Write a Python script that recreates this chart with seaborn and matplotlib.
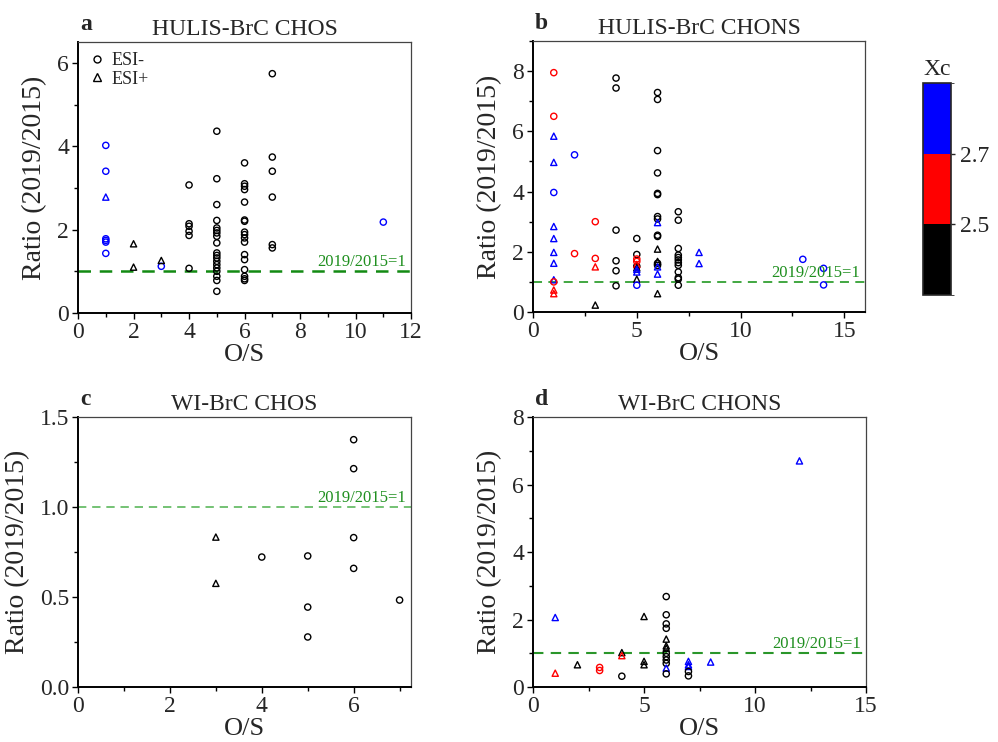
import matplotlib
matplotlib.use("Agg")
import matplotlib.pyplot as plt
from matplotlib.lines import Line2D
from matplotlib.ticker import MultipleLocator
from matplotlib.colors import ListedColormap, BoundaryNorm
import matplotlib.colorbar as mcolorbar
import numpy as np
import pandas as pd
import seaborn as sns

sns.set_style("ticks")
plt.rcParams["font.family"] = ["Liberation Serif", "DejaVu Serif"]
plt.rcParams["mathtext.fontset"] = "stix"

# Xc classes: L = below 2.5, M = 2.5-2.7, H = above 2.7
XC_COLORS = {"L": "black", "M": "#ff0000", "H": "#0000ff"}
ION_MARKERS = {"ESI-": "o", "ESI+": "^"}

# ---- a: HULIS-BrC CHOS ----
os_a = [1, 1, 1, 1, 1, 1, 3, 11,
        4, 4, 4, 4, 4, 4,
        5, 5, 5, 5, 5, 5, 5, 5, 5, 5, 5, 5, 5, 5, 5, 5, 5, 5, 5,
        6, 6, 6, 6, 6, 6, 6, 6, 6, 6, 6, 6, 6, 6, 6, 6, 6,
        7, 7, 7, 7, 7, 7,
        1, 2, 2, 3]
ratio_a = [4.02, 3.40, 1.78, 1.74, 1.70, 1.43, 1.12, 2.18,
           3.07, 2.14, 2.08, 1.96, 1.86, 1.07,
           4.36, 3.22, 2.60, 2.22, 2.04, 1.98, 1.92, 1.84, 1.68, 1.44, 1.38,
           1.32, 1.24, 1.16, 1.08, 1.00, 0.88, 0.78, 0.52,
           3.60, 3.10, 3.04, 2.96, 2.66, 2.23, 2.20, 1.94, 1.88, 1.80, 1.70,
           1.40, 1.28, 1.04, 0.88, 0.82, 0.78,
           5.74, 3.74, 3.40, 2.78, 1.64, 1.56,
           2.78, 1.66, 1.10, 1.26]
ion_a = ["ESI-"] * 56 + ["ESI+"] * 4
xc_a = (["H"] * 8 + ["L"] * 48 + ["H", "L", "L", "L"])

# ---- b: HULIS-BrC CHONS ----
os_b = [1, 1, 1, 1, 1, 1, 1, 1, 1, 1, 1, 1, 1,
        2, 2,
        3, 3, 3, 3,
        4, 4, 4, 4, 4, 4,
        5, 5, 5, 5, 5, 5, 5, 5, 5, 5, 5,
        6, 6, 6, 6, 6, 6, 6, 6, 6, 6, 6, 6, 6, 6, 6, 6, 6, 6,
        7, 7, 7, 7, 7, 7, 7, 7, 7, 7, 7, 7,
        8, 8, 13, 14, 14]
ratio_b = [7.95, 6.50, 5.84, 4.97, 3.97, 2.84, 2.44, 1.98, 1.62, 1.07, 1.00, 0.73, 0.61,
           5.22, 1.94,
           3.00, 1.78, 1.50, 0.23,
           7.77, 7.44, 2.72, 1.70, 1.37, 0.87,
           2.44, 1.91, 1.52, 1.76, 1.68, 1.58, 1.47, 1.42, 1.33, 1.09, 0.89,
           7.29, 7.06, 5.36, 4.62, 3.94, 3.90, 3.17, 3.09, 2.97, 2.55, 2.51,
           2.09, 1.68, 1.62, 1.55, 1.50, 1.26, 0.61,
           3.33, 3.05, 2.11, 1.89, 1.81, 1.73, 1.64, 1.55, 1.33, 1.14, 1.09, 0.89,
           1.98, 1.61, 1.75, 1.45, 0.90]
ion_b = ["ESI-", "ESI-", "ESI+", "ESI+", "ESI-", "ESI+", "ESI+", "ESI+", "ESI+", "ESI+", "ESI-", "ESI+", "ESI+",
         "ESI-", "ESI-",
         "ESI-", "ESI-", "ESI+", "ESI+",
         "ESI-", "ESI-", "ESI-", "ESI-", "ESI-", "ESI-",
         "ESI-", "ESI-", "ESI-", "ESI-", "ESI-", "ESI+", "ESI+", "ESI+", "ESI+", "ESI+", "ESI-",
         "ESI-", "ESI-", "ESI-", "ESI-", "ESI-", "ESI-", "ESI-", "ESI-", "ESI+", "ESI-", "ESI-",
         "ESI+", "ESI+", "ESI-", "ESI-", "ESI+", "ESI+", "ESI+",
         "ESI-", "ESI-", "ESI-", "ESI-", "ESI-", "ESI-", "ESI-", "ESI-", "ESI-", "ESI-", "ESI-", "ESI-",
         "ESI+", "ESI+", "ESI-", "ESI-", "ESI-"]
xc_b = ["M", "M", "H", "H", "H", "H", "H", "H", "H", "H", "M", "M", "M",
        "H", "M",
        "M", "M", "M", "L",
        "L", "L", "L", "L", "L", "L",
        "L", "L", "L", "M", "M", "M", "L", "H", "H", "L", "H",
        "L", "L", "L", "L", "L", "L", "L", "L", "H", "L", "L",
        "L", "L", "L", "L", "H", "H", "L",
        "L", "L", "L", "L", "L", "L", "L", "L", "L", "L", "L", "L",
        "H", "H", "H", "H", "H"]

# ---- c: WI-BrC CHOS ----
os_c = [3, 3, 4, 5, 5, 5, 6, 6, 6, 6, 7]
ratio_c = [0.833, 0.576, 0.722, 0.728, 0.444, 0.278, 1.374, 1.213, 0.830, 0.659, 0.483]
ion_c = ["ESI+", "ESI+"] + ["ESI-"] * 9
xc_c = ["L"] * 11

# ---- d: WI-BrC CHONS ----
os_d = [1, 1, 2, 3, 3, 4, 4, 4, 5, 5, 5,
        6, 6, 6, 6, 6, 6, 6, 6, 6, 6, 6, 6, 6,
        7, 7, 7, 7, 7, 8, 12]
ratio_d = [2.06, 0.41, 0.66, 0.58, 0.49, 1.02, 0.93, 0.32, 2.09, 0.76, 0.66,
           2.68, 2.14, 1.87, 1.74, 1.42, 1.22, 1.15, 1.00, 0.90, 0.80, 0.70, 0.56, 0.39,
           0.76, 0.66, 0.61, 0.46, 0.33, 0.74, 6.70]
ion_d = ["ESI+", "ESI+", "ESI+", "ESI-", "ESI-", "ESI+", "ESI+", "ESI-", "ESI+", "ESI+", "ESI+",
         "ESI-", "ESI-", "ESI-", "ESI-", "ESI+", "ESI+", "ESI+", "ESI-", "ESI-", "ESI-", "ESI-", "ESI+", "ESI-",
         "ESI+", "ESI+", "ESI+", "ESI-", "ESI-", "ESI+", "ESI+"]
xc_d = ["H", "M", "L", "M", "M", "L", "M", "L", "L", "L", "L",
        "L", "L", "L", "L", "L", "L", "L", "L", "L", "L", "L", "H", "L",
        "H", "H", "H", "L", "L", "H", "H"]

panels = [
    dict(letter="a", title="HULIS-BrC CHOS", os=os_a, ratio=ratio_a, ion=ion_a, xc=xc_a,
         xlim=(0, 12), ylim=(0, 6.5), xmaj=2, xmin=1, ymaj=2, ymin=1,
         pos=[0.0782, 0.5782, 0.3337, 0.3652], line=("#138a13", 1.8)),
    dict(letter="b", title="HULIS-BrC CHONS", os=os_b, ratio=ratio_b, ion=ion_b, xc=xc_b,
         xlim=(0, 16), ylim=(0, 9), xmaj=5, xmin=2.5, ymaj=2, ymin=1,
         pos=[0.5341, 0.5795, 0.3327, 0.3652], line=("#33a033", 1.3)),
    dict(letter="c", title="WI-BrC CHOS", os=os_c, ratio=ratio_c, ion=ion_c, xc=xc_c,
         xlim=(0, 7.25), ylim=(0, 1.5), xmaj=2, xmin=1, ymaj=0.5, ymin=0.25,
         pos=[0.0782, 0.0741, 0.3337, 0.3639], line=("#5cb85c", 1.2)),
    dict(letter="d", title="WI-BrC CHONS", os=os_d, ratio=ratio_d, ion=ion_d, xc=xc_d,
         xlim=(0, 15), ylim=(0, 8), xmaj=5, xmin=2.5, ymaj=2, ymin=1,
         pos=[0.5341, 0.0741, 0.3337, 0.3639], line=("#2a962a", 1.5)),
]

fig = plt.figure(figsize=(9.98, 7.42), dpi=100)

for p in panels:
    ax = fig.add_axes(p["pos"])
    df = pd.DataFrame({"O/S": p["os"], "Ratio": p["ratio"], "Ion": p["ion"], "Xc": p["xc"]})
    sns.scatterplot(data=df, x="O/S", y="Ratio", hue="Xc", style="Ion",
                    palette=XC_COLORS, markers=ION_MARKERS, s=20, linewidth=1.0,
                    legend=False, ax=ax, zorder=3)
    # hollow markers: move fill colour to the edge
    for coll in ax.collections:
        fc = coll.get_facecolors()
        coll.set_edgecolors(fc)
        coll.set_facecolors("none")

    color, lw = p["line"]
    ax.axhline(1.0, color=color, lw=lw, ls=(0, (5, 3.5)), zorder=2)
    ax.annotate("2019/2015=1", xy=(0.985, 1.0), xycoords=("axes fraction", "data"),
                xytext=(0, 1), textcoords="offset points", ha="right", va="bottom",
                color="#1f8f1f", fontsize=12)

    ax.set_xlim(*p["xlim"])
    ax.set_ylim(*p["ylim"])
    ax.xaxis.set_major_locator(MultipleLocator(p["xmaj"]))
    ax.xaxis.set_minor_locator(MultipleLocator(p["xmin"]))
    ax.yaxis.set_major_locator(MultipleLocator(p["ymaj"]))
    ax.yaxis.set_minor_locator(MultipleLocator(p["ymin"]))
    ax.tick_params(which="both", direction="out", top=False, right=False,
                   labelsize=17, width=1.0, pad=2, color="black")
    ax.tick_params(which="major", length=4.5)
    ax.tick_params(which="minor", length=3)

    for side in ("left", "bottom"):
        ax.spines[side].set_color("black")
        ax.spines[side].set_linewidth(1.4)
    for side in ("top", "right"):
        ax.spines[side].set_visible(True)
        ax.spines[side].set_color("#444444")
        ax.spines[side].set_linewidth(0.9)

    ax.set_xlabel("O/S", fontsize=19, labelpad=1)
    ax.set_ylabel("Ratio (2019/2015)", fontsize=20, labelpad=7)
    ax.set_title(p["title"], fontsize=17, pad=5)
    ax.text(0.006, 1.045, p["letter"], transform=ax.transAxes, fontsize=17,
            fontweight="bold", ha="left", va="baseline")

    if p["letter"] == "a":
        handles = [Line2D([], [], ls="none", marker="o", mfc="none", mec="black", ms=5, mew=1.0),
                   Line2D([], [], ls="none", marker="^", mfc="none", mec="black", ms=5.5, mew=1.0)]
        ax.legend(handles, ["ESI-", "ESI+"], loc="upper left", frameon=False, fontsize=13,
                  handletextpad=0.3, handlelength=1.0, borderaxespad=0.15, labelspacing=0.1)

# Xc colour scale
cax = fig.add_axes([0.925, 0.6024, 0.028, 0.2857])
cmap = ListedColormap(["black", "#ff0000", "#0000ff"])
norm = BoundaryNorm([2.3, 2.5, 2.7, 2.9], cmap.N)
cb = mcolorbar.ColorbarBase(cax, cmap=cmap, norm=norm, ticks=[2.5, 2.7], orientation="vertical")
cb.ax.tick_params(labelsize=17, length=3, width=1.0)
cb.ax.set_yticklabels(["2.5", "2.7"])
cb.outline.set_linewidth(1.2)
cax.set_title("Xc", fontsize=17, pad=6)

fig.savefig("out.png", dpi=100)
